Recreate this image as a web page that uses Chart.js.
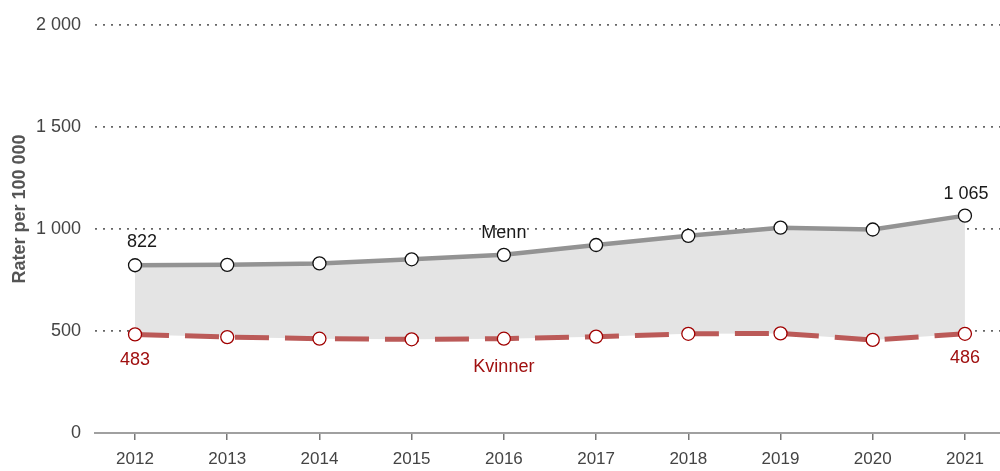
<!DOCTYPE html>
<html>
<head>
<meta charset="utf-8">
<script src="https://cdn.jsdelivr.net/npm/chart.js@4"></script>
<style>
  html, body { margin: 0; padding: 0; background: #fff; overflow: hidden; }
  #wrap { position: relative; width: 1000px; height: 471px; }
</style>
</head>
<body>
<div id="wrap"><canvas id="rateChart"></canvas></div>
<script>
const years = [2012, 2013, 2014, 2015, 2016, 2017, 2018, 2019, 2020, 2021];
const menn = [822, 824, 831, 851, 873, 921, 966, 1006, 997, 1065];
const kvinner = [483, 470, 462, 459, 462, 472, 486, 488, 456, 486];
const yTicks = [0, 500, 1000, 1500, 2000];

const FONT = "'Liberation Sans', Arial, sans-serif";

function fmt(v) {
    return String(v).replace(/\B(?=(\d{3})+(?!\d))/g, ' ');
}

// text labels on the lines + the y axis title
const labelPlugin = {
    id: 'labels',
    afterDatasetsDraw(chart) {
        const ctx = chart.ctx;
        const x = chart.scales.x;
        const y = chart.scales.y;
        const last = years.length - 1;
        ctx.save();
        ctx.font = '18px ' + FONT;
        ctx.textAlign = 'center';
        ctx.textBaseline = 'middle';

        ctx.fillStyle = '#1a1a1a';
        ctx.fillText(fmt(menn[0]), x.getPixelForValue(years[0]) + 7, y.getPixelForValue(menn[0]) - 23);
        ctx.fillText(fmt(menn[last]), x.getPixelForValue(years[last]) + 1, y.getPixelForValue(menn[last]) - 22);
        ctx.fillText('Menn', x.getPixelForValue(years[4]), y.getPixelForValue(menn[4]) - 22);

        ctx.fillStyle = '#a01010';
        ctx.fillText(fmt(kvinner[0]), x.getPixelForValue(years[0]), y.getPixelForValue(kvinner[0]) + 26);
        ctx.fillText(fmt(kvinner[last]), x.getPixelForValue(years[last]), y.getPixelForValue(kvinner[last]) + 24);
        ctx.fillText('Kvinner', x.getPixelForValue(years[4]), y.getPixelForValue(kvinner[4]) + 28);

        ctx.translate(20, 209);
        ctx.rotate(-Math.PI / 2);
        ctx.font = 'bold 18px ' + FONT;
        ctx.fillStyle = '#555';
        ctx.fillText('Rater per 100 000', 0, 0);
        ctx.restore();
    }
};

new Chart(document.getElementById('rateChart'), {
    type: 'line',
    data: {
        datasets: [{
            label: 'Menn',
            order: 2,
            data: years.map((yr, i) => ({ x: yr, y: menn[i] })),
            borderColor: '#939393',
            borderWidth: 4.5,
            backgroundColor: '#e4e4e4',
            fill: '+1',
            pointRadius: 6.5,
            pointBorderWidth: 1.3,
            pointBorderColor: '#111',
            pointBackgroundColor: '#fff',
            tension: 0
        }, {
            label: 'Kvinner',
            order: 1,
            data: years.map((yr, i) => ({ x: yr, y: kvinner[i] })),
            borderColor: '#bb5a58',
            borderWidth: 5,
            borderDash: [34, 16],
            fill: false,
            pointRadius: 6.5,
            pointBorderWidth: 1.3,
            pointBorderColor: '#a00000',
            pointBackgroundColor: '#fff',
            tension: 0
        }]
    },
    options: {
        responsive: true,
        maintainAspectRatio: false,
        animation: false,
        layout: { autoPadding: false, padding: { top: 22, right: 0, left: 0, bottom: 0 } },
        plugins: {
            legend: { display: false },
            tooltip: { enabled: false }
        },
        scales: {
            x: {
                type: 'linear',
                min: 2011.566,
                max: 2021.38,
                afterBuildTicks: scale => { scale.ticks = years.map(v => ({ value: v })); },
                afterFit: scale => {
                    scale.height = 38;
                    scale.paddingLeft = 0;
                    scale.paddingRight = 0;
                },
                ticks: {
                    color: '#444',
                    font: { family: FONT, size: 17 },
                    padding: 9,
                    callback: v => String(v)
                },
                grid: {
                    drawOnChartArea: false,
                    drawTicks: true,
                    tickLength: 7,
                    color: '#777',
                    lineWidth: 1.5
                },
                border: { color: '#a0a0a0', width: 2 }
            },
            y: {
                min: 0,
                max: 2000,
                afterBuildTicks: scale => { scale.ticks = yTicks.map(v => ({ value: v })); },
                afterFit: scale => { scale.width = 95; },
                ticks: {
                    color: '#444',
                    font: { family: FONT, size: 18 },
                    padding: 14,
                    callback: v => fmt(v)
                },
                grid: {
                    drawTicks: false,
                    color: ctx => ctx.tick && ctx.tick.value === 0 ? 'rgba(0,0,0,0)' : '#666',
                    lineWidth: 1.8
                },
                border: { display: false, dash: [2, 6] }
            }
        }
    },
    plugins: [labelPlugin]
});
</script>
</body>
</html>
